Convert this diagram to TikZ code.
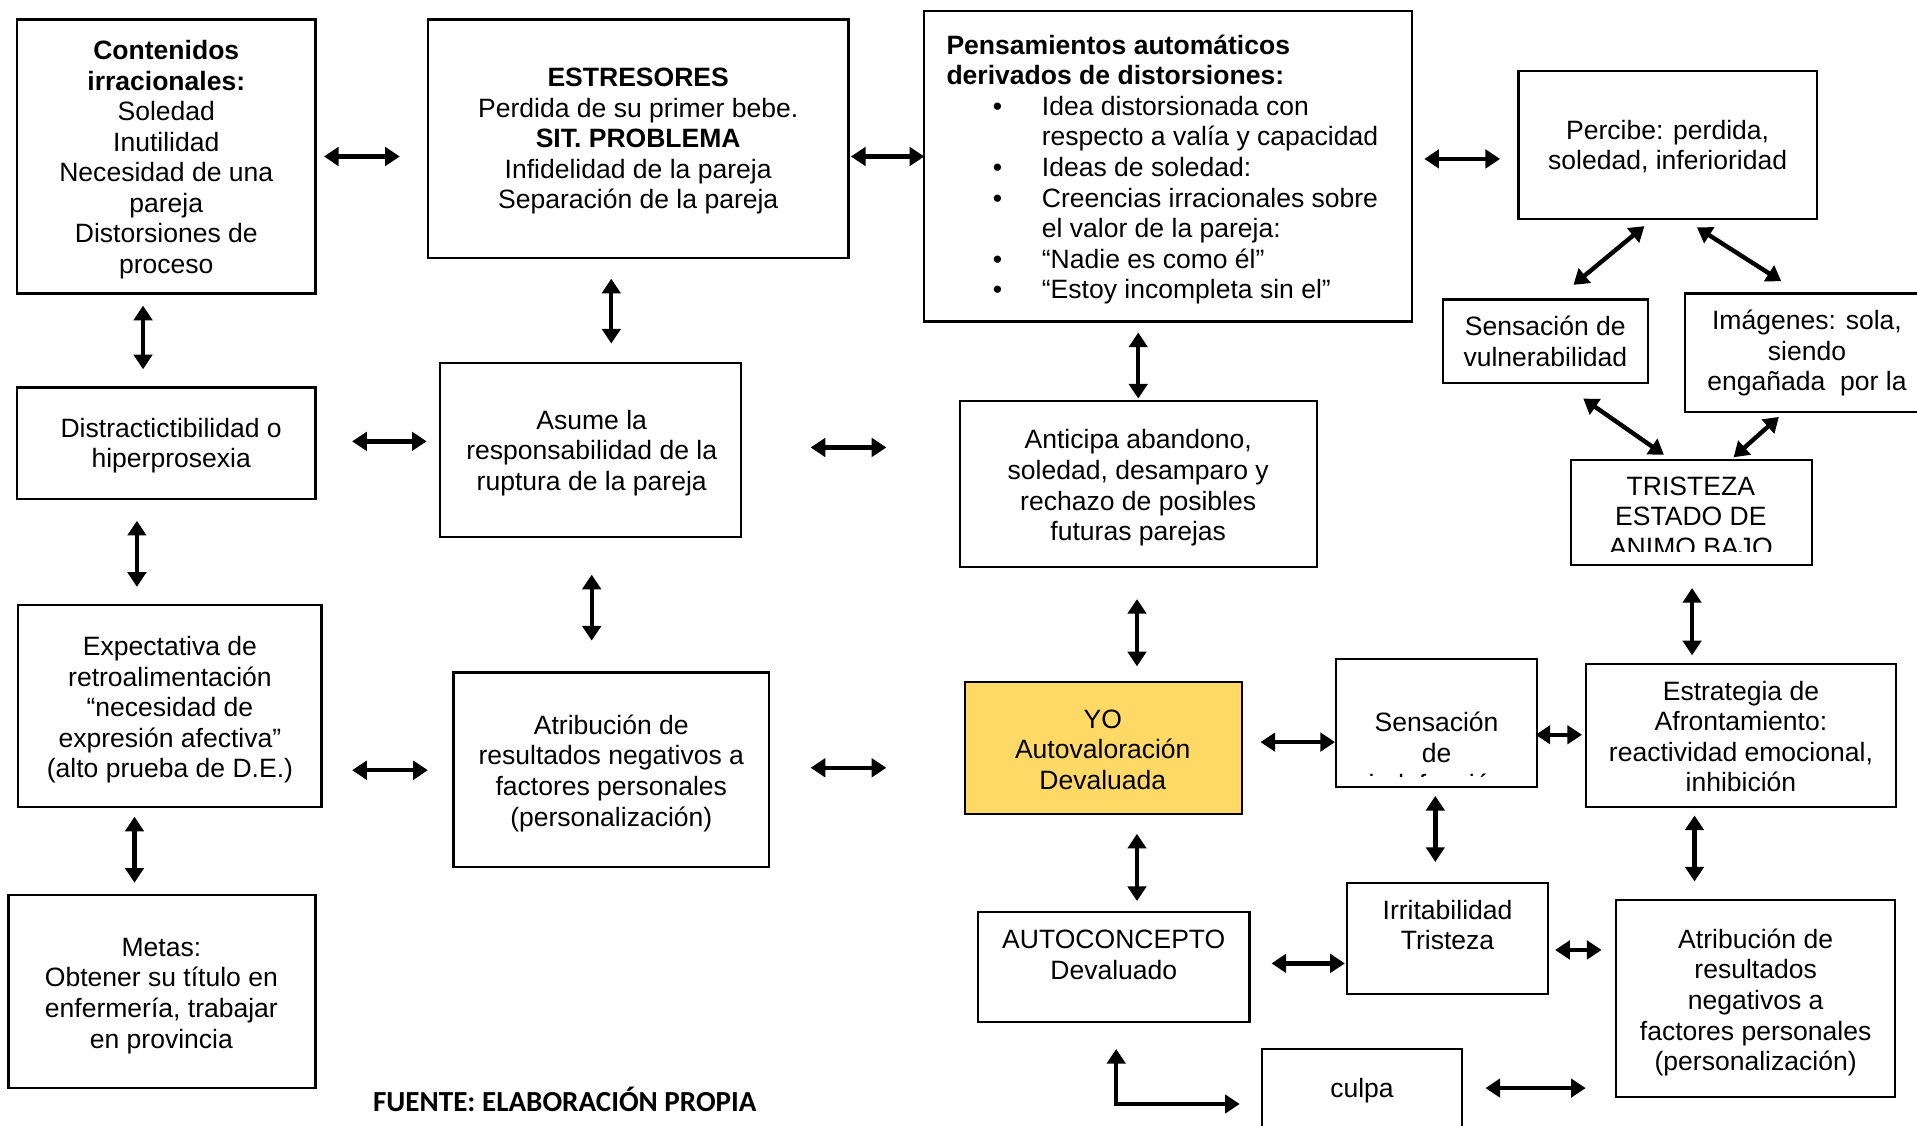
\documentclass[tikz,border=0pt]{standalone}
\usepackage{fontspec}
\setmainfont{Liberation Sans}
\newfontfamily\footfont{Carlito}
\usetikzlibrary{arrows.meta,fit}
% every text block gets struts on its first and last line, so lines sit on a 25pt grid
\newcommand\tb[1]{\strut#1\strut}
\newcommand\bul{\hspace*{38pt}\makebox[40pt][l]{•}}
\newcommand\ind{\hspace*{78pt}}

\begin{document}
\begin{tikzpicture}[x=1pt,y=-1pt,
  box/.style={draw, line width=1.8pt, inner sep=0pt},
  txt/.style={align=center, inner sep=0pt, yshift=-2.7pt, font=\fontsize{21.7}{25}\selectfont},
  dar/.style={line width=3.6pt,
    {Triangle[length=12pt,width=15pt]}-{Triangle[length=12pt,width=15pt]}}]

\useasboundingbox (0,0) rectangle (1568,921);
\clip (0,0) rectangle (1568,921);

% ---------- boxes ----------
\node[box, fit={(14,16)(258,240)}]   (cont)   {};
\node[box, fit={(350,16)(694,211)}]  (estr)   {};
\node[box, fit={(756,9)(1155,263)}]  (pens)   {};
\node[box, fit={(1242,58)(1486,179)}] (perc)  {};
\node[box, fit={(1180,245)(1348,313)}] (vuln) {};
\node[box, fit={(1378,240)(1590,337)}] (imag) {};
\node[box, fit={(1285,376)(1482,462)}] (trist) {};
\node[box, fit={(14,317)(258,408)}]  (dist)   {};
\node[box, fit={(360,297)(606,439)}] (asume)  {};
\node[box, fit={(785,328)(1077,464)}] (antic) {};
\node[box, fit={(15,495)(263,660)}]  (expe)   {};
\node[box, fit={(371,550)(629,709)}] (atribA) {};
\node[box, fill={rgb,255:red,255;green,217;blue,102}, fit={(789,558)(1016,666)}] (yo) {};
\node[box, fit={(1093,539)(1257,644)}] (sens)  {};
\node[box, fit={(1297,543)(1551,660)}] (estra) {};
\node[box, fit={(7,732)(258,890)}]   (metas)  {};
\node[box, fit={(800,746)(1022,836)}] (autoc) {};
\node[box, fit={(1102,722)(1266,813)}] (irrit) {};
\node[box, fit={(1322,736)(1550,897)}] (atribB) {};
\node[box, fit={(1032,858)(1196,940)}] (culpa) {};

% ---------- texts ----------
\node[txt] (cont-t) at (136,128.5) {\tb{\textbf{Contenidos}\\\textbf{irracionales:}\\Soledad\\Inutilidad\\Necesidad de una\\pareja\\Distorsiones de\\proceso}};
\node[txt] (estr-t) at (522,113) {\tb{\textbf{ESTRESORES}\\Perdida de su primer bebe.\\\textbf{SIT. PROBLEMA}\\Infidelidad de la pareja\\Separación de la pareja}};
\node[txt, align=left, anchor=north west] (pens-t) at (774,24) {\tb{\textbf{Pensamientos automáticos}\\
\textbf{derivados de distorsiones:}\\
\bul Idea distorsionada con\\
\ind respecto a valía y capacidad\\
\bul Ideas de soledad:\\
\bul Creencias irracionales sobre\\
\ind el valor de la pareja:\\
\bul “Nadie es como él”\\
\bul “Estoy incompleta sin el”}};
\node[txt] (perc-t) at (1364,118.5) {\tb{Percibe: perdida,\\soledad, inferioridad}};
\node[txt] (vuln-t) at (1264,279.5) {\tb{Sensación de\\vulnerabilidad}};
\node[txt] (imag-t) at (1478,287) {\tb{Imágenes: sola,\\siendo\\engañada\ \ por la}};
\begin{scope}
  \clip (trist.north west) rectangle ([yshift=12pt]trist.south east);
  \node[txt] (trist-t) at (1383,422.5) {\tb{TRISTEZA\\ESTADO DE\\ANIMO BAJO}};
\end{scope}
\node[txt] (dist-t) at (140,362.5) {\tb{Distractictibilidad o\\hiperprosexia}};
\node[txt] (asume-t) at (484,368.5) {\tb{Asume la\\responsabilidad de la\\ruptura de la pareja}};
\node[txt] (antic-t) at (931,397) {\tb{Anticipa abandono,\\soledad, desamparo y\\rechazo de posibles\\futuras parejas}};
\node[txt] (expe-t) at (139,578.5) {\tb{Expectativa de\\retroalimentación\\“necesidad de\\expresión afectiva”\\(alto prueba de D.E.)}};
\node[txt] (atribA-t) at (500,630.5) {\tb{Atribución de\\resultados negativos a\\factores personales\\(personalización)}};
\node[txt] (yo-t) at (902,613) {\tb{YO\\Autovaloración\\Devaluada}};
\begin{scope}
  \clip (sens.north west) rectangle ([yshift=10pt]sens.south east);
  \node[txt] (sens-t) at (1175,616) {\tb{Sensación\\de\\indefensión}};
\end{scope}
\node[txt] (estra-t) at (1424,602.5) {\tb{Estrategia de\\Afrontamiento:\\reactividad emocional,\\inhibición}};
\node[txt] (metas-t) at (132,812) {\tb{Metas:\\Obtener su título en\\enfermería, trabajar\\en provincia}};
\node[txt] (autoc-t) at (911,781) {\tb{AUTOCONCEPTO\\Devaluado}};
\node[txt] (irrit-t) at (1184,756.5) {\tb{Irritabilidad\\Tristeza}};
\node[txt] (atribB-t) at (1436,818) {\tb{Atribución de\\resultados\\negativos a\\factores personales\\(personalización)}};
\node[txt] (culpa-t) at (1114,890) {\tb{culpa}};
\node[inner sep=0pt, font=\footfont\bfseries\fontsize{23.8}{27}\selectfont] (fuente) at (462,899) {FUENTE: ELABORACIÓN PROPIA};

% ---------- connector ends ----------
\coordinate (cont-e)   at (265,128);  \coordinate (estr-w)   at (327,128);
\coordinate (estr-e)   at (696,128);  \coordinate (pens-w)   at (756,128);
\coordinate (pens-e)   at (1165,130); \coordinate (perc-w)   at (1227,130);
\coordinate (cont-s)   at (117,250);  \coordinate (dist-n)   at (117,302);
\coordinate (estr-s)   at (500,228);  \coordinate (asume-n)  at (500,281);
\coordinate (pens-s)   at (931,272);  \coordinate (antic-n)  at (931,326);
\coordinate (perc-sw)  at (1345,185); \coordinate (vuln-ne)  at (1287,233);
\coordinate (perc-se)  at (1388,186); \coordinate (imag-nw)  at (1457,230);
\coordinate (vuln-se)  at (1295,326); \coordinate (trist-nw) at (1361,372);
\coordinate (imag-sw)  at (1455,341); \coordinate (trist-ne) at (1418,374);
\coordinate (dist-e)   at (288,361);  \coordinate (asume-w)  at (349,361);
\coordinate (asume-e)  at (663,366);  \coordinate (antic-w)  at (725,366);
\coordinate (dist-s)   at (112,426);  \coordinate (expe-n)   at (112,480);
\coordinate (asume-s)  at (484,470);  \coordinate (atribA-n) at (484,524);
\coordinate (antic-s)  at (930,490);  \coordinate (yo-n)     at (930,545);
\coordinate (trist-s)  at (1384,481); \coordinate (estra-n)  at (1384,536);
\coordinate (expe-e)   at (288,630);  \coordinate (atribA-w) at (350,630);
\coordinate (atribA-e) at (663,628);  \coordinate (yo-w)     at (725,628);
\coordinate (yo-e)     at (1031,607); \coordinate (sens-w)   at (1092,607);
\coordinate (sens-e)   at (1256,601); \coordinate (estra-w)  at (1294,601);
\coordinate (expe-s)   at (110,668);  \coordinate (metas-n)  at (110,722);
\coordinate (yo-s)     at (930,682);  \coordinate (autoc-n)  at (930,737);
\coordinate (sens-s)   at (1174,651); \coordinate (irrit-n)  at (1174,705);
\coordinate (estra-s)  at (1386,667); \coordinate (atribB-n) at (1386,721);
\coordinate (autoc-e)  at (1040,788); \coordinate (irrit-w)  at (1100,788);
\coordinate (irrit-e)  at (1272,777); \coordinate (atribB-w) at (1310,777);
\coordinate (culpa-e)  at (1215,890); \coordinate (atribB-sw) at (1297,890);
\coordinate (culpa-w)  at (1014,903); \coordinate (autoc-s)  at (913,858);

% ---------- connectors ----------
\draw[dar] (cont-e) -- (estr-w);
\draw[dar] (estr-e) -- (pens-w);
\draw[dar] (pens-e) -- (perc-w);
\draw[dar] (cont-s) -- (dist-n);
\draw[dar] (estr-s) -- (asume-n);
\draw[dar] (pens-s) -- (antic-n);
\draw[dar] (perc-sw) -- (vuln-ne);
\draw[dar] (perc-se) -- (imag-nw);
\draw[dar] (vuln-se) -- (trist-nw);
\draw[dar] (imag-sw) -- (trist-ne);
\draw[dar] (dist-e) -- (asume-w);
\draw[dar] (asume-e) -- (antic-w);
\draw[dar] (dist-s) -- (expe-n);
\draw[dar] (asume-s) -- (atribA-n);
\draw[dar] (antic-s) -- (yo-n);
\draw[dar] (trist-s) -- (estra-n);
\draw[dar] (expe-e) -- (atribA-w);
\draw[dar] (atribA-e) -- (yo-w);
\draw[dar] (yo-e) -- (sens-w);
\draw[dar] (sens-e) -- (estra-w);
\draw[dar] (expe-s) -- (metas-n);
\draw[dar] (yo-s) -- (autoc-n);
\draw[dar] (sens-s) -- (irrit-n);
\draw[dar] (estra-s) -- (atribB-n);
\draw[dar] (autoc-e) -- (irrit-w);
\draw[dar] (irrit-e) -- (atribB-w);
\draw[dar] (culpa-e) -- (atribB-sw);
\draw[dar] (culpa-w) -| (autoc-s);
\end{tikzpicture}
\end{document}
